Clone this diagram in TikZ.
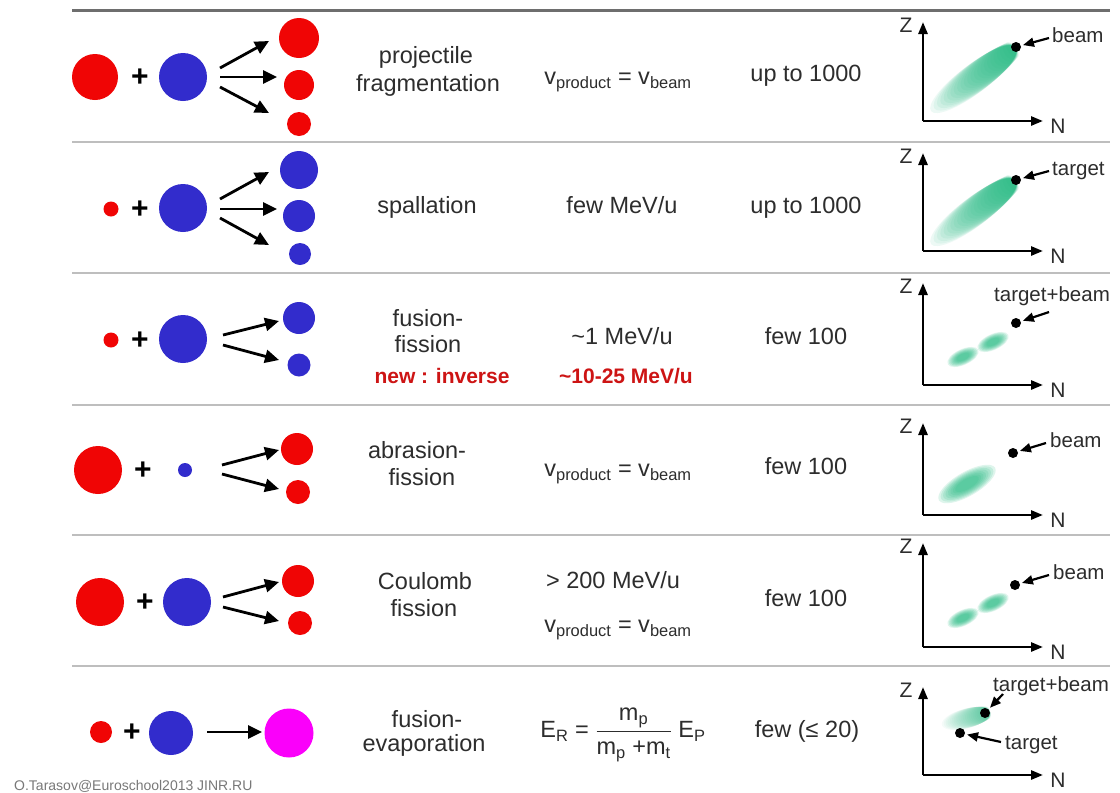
\documentclass[tikz,border=0pt]{standalone}
\usepackage{fontspec}
\setmainfont{Liberation Sans}
\usetikzlibrary{arrows.meta}
\definecolor{ballred}{RGB}{240,5,5}
\definecolor{ballblue}{RGB}{50,44,204}
\definecolor{ballmag}{RGB}{250,0,250}
\definecolor{txt}{RGB}{45,45,45}
\definecolor{redtxt}{RGB}{205,20,20}
\definecolor{blob}{RGB}{25,185,125}
\definecolor{topline}{RGB}{110,110,110}
\definecolor{sepline}{RGB}{190,190,190}
\definecolor{credit}{RGB}{120,120,120}

\tikzset{
  ball/.style={circle, inner sep=0pt, minimum size=#1},
  rarr/.style={line width=2.8pt, -{Triangle[length=14pt,width=13pt]}},
  axisline/.style={line width=2.6pt, -{Triangle[length=12pt,width=9pt]}},
  lblarr/.style={line width=2.2pt, shorten >=2pt, -{Triangle[length=11pt,width=9pt]}},
  coltxt/.style={font=\fontsize{23.5}{28}\selectfont, text=txt, inner sep=0pt, anchor=mid},
  redbold/.style={font=\fontsize{21}{25}\selectfont\bfseries, text=redtxt, inner sep=0pt, anchor=mid},
  plustxt/.style={font=\fontsize{30}{32}\selectfont\bfseries, text=black, inner sep=0pt},
  plotlbl/.style={font=\fontsize{20.5}{24}\selectfont, text=txt, inner sep=0pt},
  axlbl/.style={font=\fontsize{21}{24}\selectfont, text=txt, inner sep=0pt},
  dotn/.style={circle, fill=black, inner sep=0pt, minimum size=10pt},
  sep/.style={sepline, line width=2pt},
}

\newcommand{\myaxes}[3]{%
  \coordinate (#1o) at (923,#3);
  \coordinate (#1z) at (923,#2);
  \coordinate (#1n) at (1043,#3);
  \draw[axisline] (#1o) -- (#1z);
  \draw[axisline] (#1o) -- (#1n);
  \node[axlbl] (#1Z) at (906,#2+3) {Z};
  \node[axlbl] (#1N) at (1058,#3+5) {N};
}

\newcommand{\comet}[6]{% x, y, angle, A, B, opacity
  \begin{scope}[shift={(#1,#2)}, rotate=#3]
    \foreach \ci in {0,...,23} {
      \pgfmathsetmacro{\cometA}{#4*(1-\ci/25)}
      \pgfmathsetmacro{\cometB}{#5*(1-\ci/45)*(0.75+0.25*\ci/23)}
      \pgfmathsetmacro{\cometC}{#4-2-\cometA}
      \fill[blob, opacity=#6] (\cometC,0) ellipse ({\cometA} and {\cometB});
    }
  \end{scope}}

\newcommand{\softblob}[5]{% x, y, angle, a, b
  \begin{scope}[shift={(#1,#2)}, rotate=#3]
    \foreach \bs in {1.2,1.1,1,0.9,0.8,0.7,0.6,0.5} {
      \fill[blob, opacity=0.14] (0,0) ellipse ({#4*\bs} and {#5*\bs});
    }
  \end{scope}}

\begin{document}
\begin{tikzpicture}[x=1pt,y=-1pt]
\useasboundingbox (0,0) rectangle (1120,793);
\fill[white] (0,0) rectangle (1120,793);

% ---------- horizontal rules ----------
\coordinate (tl) at (72,10);  \coordinate (tr) at (1110,10);
\draw[topline, line width=3pt] (tl) -- (tr);
\foreach \yy/\nm in {142/s1, 273/s2, 405/s3, 535/s4, 666/s5} {
  \coordinate (\nm l) at (72,\yy); \coordinate (\nm r) at (1110,\yy);
  \draw[sep] (\nm l) -- (\nm r);
}

% ---------- row 1 : projectile fragmentation ----------
\node[ball=46pt, fill=ballred]  (r1a) at (95,77) {};
\node[plustxt] (r1p) at (140,78) {+};
\node[ball=48pt, fill=ballblue] (r1b) at (183,77) {};
\node[ball=40pt, fill=ballred] (r1c1) at (299,38) {};
\node[ball=30pt, fill=ballred] (r1c2) at (299,85) {};
\node[ball=24pt, fill=ballred] (r1c3) at (299,124) {};
\coordinate (r1s1) at (220,68);  \coordinate (r1e1) at (269,41);
\coordinate (r1s2) at (220,77);  \coordinate (r1e2) at (277,77);
\coordinate (r1s3) at (220,87);  \coordinate (r1e3) at (269,113);
\draw[rarr] (r1s1) -- (r1e1);
\draw[rarr] (r1s2) -- (r1e2);
\draw[rarr] (r1s3) -- (r1e3);
\node[coltxt] (t1a) at (426,61) {projectile};
\node[coltxt] (t1b) at (428,89) {fragmentation};
\node[coltxt] (t1c) at (618,82) {v\textsubscript{product} = v\textsubscript{beam}};
\node[coltxt] (t1d) at (806,79) {up to 1000};

% ---------- row 2 : spallation ----------
\node[ball=15pt, fill=ballred]  (r2a) at (111,209) {};
\node[plustxt] (r2p) at (140,210) {+};
\node[ball=48pt, fill=ballblue] (r2b) at (183,208) {};
\node[ball=38pt, fill=ballblue] (r2c1) at (299,170) {};
\node[ball=32pt, fill=ballblue] (r2c2) at (299,216) {};
\node[ball=22pt, fill=ballblue] (r2c3) at (300,254) {};
\coordinate (r2s1) at (220,199);  \coordinate (r2e1) at (269,172);
\coordinate (r2s2) at (220,209);  \coordinate (r2e2) at (277,209);
\coordinate (r2s3) at (220,218);  \coordinate (r2e3) at (269,245);
\draw[rarr] (r2s1) -- (r2e1);
\draw[rarr] (r2s2) -- (r2e2);
\draw[rarr] (r2s3) -- (r2e3);
\node[coltxt] (t2a) at (427,211) {spallation};
\node[coltxt] (t2c) at (622,211) {few MeV/u};
\node[coltxt] (t2d) at (806,211) {up to 1000};

% ---------- row 3 : fusion-fission ----------
\node[ball=15pt, fill=ballred]  (r3a) at (111,340) {};
\node[plustxt] (r3p) at (140,341) {+};
\node[ball=48pt, fill=ballblue] (r3b) at (183,339) {};
\node[ball=32pt, fill=ballblue] (r3c1) at (299,318) {};
\node[ball=23pt, fill=ballblue] (r3c2) at (299,365) {};
\coordinate (r3s1) at (223,335);  \coordinate (r3e1) at (279,321);
\coordinate (r3s2) at (223,345);  \coordinate (r3e2) at (279,360);
\draw[rarr] (r3s1) -- (r3e1);
\draw[rarr] (r3s2) -- (r3e2);
\node[coltxt] (t3a) at (428,324) {fusion-};
\node[coltxt] (t3b) at (428,350) {fission};
\node[redbold] (t3r) at (442,381) {new : inverse};
\node[coltxt] (t3c) at (622,342) {\textasciitilde1 MeV/u};
\node[redbold] (t3cr) at (626,381) {\textasciitilde10-25 MeV/u};
\node[coltxt] (t3d) at (806,342) {few 100};

% ---------- row 4 : abrasion-fission ----------
\node[ball=48pt, fill=ballred]  (r4a) at (98,470) {};
\node[plustxt] (r4p) at (143,471) {+};
\node[ball=14pt, fill=ballblue] (r4b) at (185,470) {};
\node[ball=32pt, fill=ballred] (r4c1) at (297,449) {};
\node[ball=24pt, fill=ballred] (r4c2) at (298,492) {};
\coordinate (r4s1) at (222,465);  \coordinate (r4e1) at (279,450);
\coordinate (r4s2) at (222,474);  \coordinate (r4e2) at (279,489);
\draw[rarr] (r4s1) -- (r4e1);
\draw[rarr] (r4s2) -- (r4e2);
\node[coltxt] (t4a) at (417,456) {abrasion-};
\node[coltxt] (t4b) at (422,483) {fission};
\node[coltxt] (t4c) at (618,474) {v\textsubscript{product} = v\textsubscript{beam}};
\node[coltxt] (t4d) at (806,472) {few 100};

% ---------- row 5 : Coulomb fission ----------
\node[ball=48pt, fill=ballred]  (r5a) at (100,602) {};
\node[plustxt] (r5p) at (145,603) {+};
\node[ball=48pt, fill=ballblue] (r5b) at (187,602) {};
\node[ball=32pt, fill=ballred] (r5c1) at (298,581) {};
\node[ball=24pt, fill=ballred] (r5c2) at (300,623) {};
\coordinate (r5s1) at (223,597);  \coordinate (r5e1) at (279,582);
\coordinate (r5s2) at (223,607);  \coordinate (r5e2) at (279,621);
\draw[rarr] (r5s1) -- (r5e1);
\draw[rarr] (r5s2) -- (r5e2);
\node[coltxt] (t5a) at (425,587) {Coulomb};
\node[coltxt] (t5b) at (424,614) {fission};
\node[coltxt] (t5c) at (613,586) {> 200 MeV/u};
\node[coltxt] (t5e) at (618,630) {v\textsubscript{product} = v\textsubscript{beam}};
\node[coltxt] (t5d) at (806,604) {few 100};

% ---------- row 6 : fusion-evaporation ----------
\node[ball=22pt, fill=ballred]  (r6a) at (101,732) {};
\node[plustxt] (r6p) at (132,733) {+};
\node[ball=44pt, fill=ballblue] (r6b) at (171,733) {};
\node[ball=49pt, fill=ballmag] (r6c) at (289,733) {};
\coordinate (r6s) at (207,732);  \coordinate (r6e) at (262,732);
\draw[rarr] (r6s) -- (r6e);
\node[coltxt] (t6a) at (427,725) {fusion-};
\node[coltxt] (t6b) at (424,749) {evaporation};
\node[coltxt] (t6c) at (623,735) {E\textsubscript{R} = $\displaystyle\frac{\mbox{m\textsubscript{p}}}{\mbox{m\textsubscript{p} +m\textsubscript{t}}}$ E\textsubscript{P}};
\node[coltxt] (t6d) at (807,735) {few (≤ 20)};

% ---------- Z-N plots ----------
% row 1
\comet{975}{78}{37}{53}{19}{0.075}
\myaxes{p1}{22}{121}
\node[dotn] (d1) at (1016,47) {};
\node[plotlbl, anchor=mid west] (l1) at (1052,40) {beam};
\coordinate (a1) at (1049,38);
\draw[lblarr] (a1) -- (d1);
% row 2
\comet{975}{211}{37}{53}{19}{0.075}
\myaxes{p2}{153}{251}
\node[dotn] (d2) at (1016,180) {};
\node[plotlbl, anchor=mid west] (l2) at (1052,173) {target};
\coordinate (a2) at (1049,171);
\draw[lblarr] (a2) -- (d2);
% row 3
\softblob{963}{357}{25}{14}{6.5}
\softblob{993}{342}{25}{14}{6.5}
\myaxes{p3}{283}{385}
\node[dotn] (d3) at (1016,323) {};
\node[plotlbl] (l3) at (1052,296) {target+beam};
\coordinate (a3) at (1049,312);
\draw[lblarr] (a3) -- (d3);
% row 4
\softblob{967}{484}{30}{27}{10}
\myaxes{p4}{423}{515}
\node[dotn] (d4) at (1013,453) {};
\node[plotlbl, anchor=mid west] (l4) at (1050,445) {beam};
\coordinate (a4) at (1046,443);
\draw[lblarr] (a4) -- (d4);
% row 5
\softblob{963}{618}{25}{14}{6.5}
\softblob{993}{603}{25}{14}{6.5}
\myaxes{p5}{543}{647}
\node[dotn] (d5) at (1015,585) {};
\node[plotlbl, anchor=mid west] (l5) at (1053,577) {beam};
\coordinate (a5) at (1049,575);
\draw[lblarr] (a5) -- (d5);
% row 6
\comet{968}{718}{15}{25}{13}{0.045}
\myaxes{p6}{687}{775}
\node[dotn] (d6a) at (985,713) {};
\node[dotn] (d6b) at (960,733) {};
\node[plotlbl] (l6a) at (1051,686) {target+beam};
\node[plotlbl, anchor=mid west] (l6b) at (1005,747) {target};
\coordinate (a6a) at (1003,694);
\coordinate (a6b) at (1001,742);
\draw[lblarr] (a6a) -- (d6a);
\draw[lblarr] (a6b) -- (d6b);

% ---------- credit ----------
\node[font=\fontsize{14}{16}\selectfont, text=credit, inner sep=0pt, anchor=base west] (cred) at (14,790) {O.Tarasov@Euroschool2013 JINR.RU};
\end{tikzpicture}
\end{document}
